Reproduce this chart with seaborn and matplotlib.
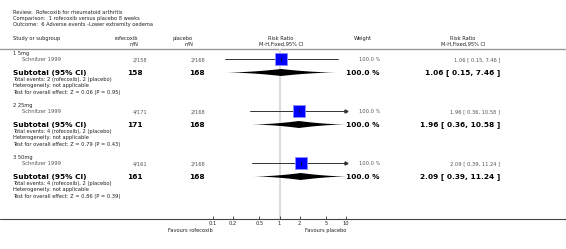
import numpy as np
import matplotlib
matplotlib.use('Agg')
import matplotlib.pyplot as plt
import seaborn as sns

# ---- data ----
groups = ['1 5mg', '2 25mg', '3 50mg']
study = 'Schnitzer 1999'
rof_events = [2, 4, 4]
rof_n = [158, 171, 161]
pla_events = [2, 2, 2]
pla_n = [168, 168, 168]
rr = [1.06, 1.96, 2.09]
ci_lo = [0.15, 0.36, 0.39]
ci_hi = [7.46, 10.58, 11.24]
weight = [100.0, 100.0, 100.0]
z_val = [0.06, 0.79, 0.86]
p_val = [0.95, 0.43, 0.39]
ticks = [0.1, 0.2, 0.5, 1, 2, 5, 10]
tick_labels = ['0.1', '0.2', '0.5', '1', '2', '5', '10']

sns.set_theme(style='white')
plt.rcParams['font.family'] = ['DejaVu Sans']

W, H = 566, 249
fig = plt.figure(figsize=(W / 100, H / 100), dpi=100)
ax = fig.add_axes([0, 0, 1, 1])
ax.set_xlim(0, W)
ax.set_ylim(H, 0)
ax.axis('off')

fs = 3.7     # small text
fsb = 5.3    # bold subtotal text
tc = '#222222'
vc = '#555555'

# header
ax.text(13, 12, 'Review:  Rofecoxib for rheumatoid arthritis', fontsize=fs, color=tc, va='center')
ax.text(13, 18, 'Comparison:  1 rofecoxib versus placebo 8 weeks', fontsize=fs, color=tc, va='center')
ax.text(13, 24.5, 'Outcome:  6 Adverse events -Lower extremity oedema', fontsize=fs, color=tc, va='center')

ax.text(13, 38, 'Study or subgroup', fontsize=fs, color=tc, va='center')
ax.text(138, 38, 'rofecoxib', fontsize=fs, color=tc, va='center', ha='right')
ax.text(138, 44, 'n/N', fontsize=fs, color=tc, va='center', ha='right')
ax.text(193, 38, 'placebo', fontsize=fs, color=tc, va='center', ha='right')
ax.text(193, 44, 'n/N', fontsize=fs, color=tc, va='center', ha='right')
ax.text(281, 38, 'Risk Ratio', fontsize=fs, color=tc, va='center', ha='center')
ax.text(281, 44, 'M-H,Fixed,95% CI', fontsize=fs, color=tc, va='center', ha='center')
ax.text(363, 38, 'Weight', fontsize=fs, color=tc, va='center', ha='center')
ax.text(463, 38, 'Risk Ratio', fontsize=fs, color=tc, va='center', ha='center')
ax.text(463, 44, 'M-H,Fixed,95% CI', fontsize=fs, color=tc, va='center', ha='center')
ax.plot([0, W], [49, 49], color='#999999', lw=1.0)

# ---- forest axes (log scale) ----
x0, x1 = 213, 346
ytop, ybot = 49.5, 219
fx = fig.add_axes([x0 / W, 1 - ybot / H, (x1 - x0) / W, (ybot - ytop) / H])
fx.set_xscale('log')
fx.set_xlim(0.1, 10)
fx.set_ylim(ybot, ytop)
fx.patch.set_alpha(0)
for s in fx.spines.values():
    s.set_visible(False)
fx.axvline(1, color='#dddddd', lw=1.5, zorder=0)


def diamond(axis, lo, est, hi, yc, h=3.5):
    # spindle shaped diamond, edges bowed inwards (drawn in log space)
    f = np.linspace(0, 1, 30)
    la, le, lh = np.log10(lo), np.log10(est), np.log10(hi)
    left = la + (le - la) * f
    right = lh + (le - lh) * f
    prof = h * f ** 1.8
    xs = np.concatenate([left, right[::-1], left[::-1][:0], right, left[::-1]])
    xs = np.concatenate([left, right[::-1], right, left[::-1]])
    ys = np.concatenate([yc - prof, yc - prof[::-1], yc + prof, yc + prof[::-1]])
    axis.fill(10 ** xs, ys, color='black', lw=0, zorder=2)


step = 6.5
first = 53
block = 8 * step
study_y = []
for i, g in enumerate(groups):
    y = first + i * block
    sy = y + step
    suby = y + 3 * step
    study_y.append(sy)
    ax.text(13, y, g, fontsize=fs, color=tc, va='center')
    ax.text(22, sy, study, fontsize=fs, color=vc, va='center')
    ax.text(147, sy, f'{rof_events[i]}/{rof_n[i]}', fontsize=fs, color=vc, va='center', ha='right')
    ax.text(205, sy, f'{pla_events[i]}/{pla_n[i]}', fontsize=fs, color=vc, va='center', ha='right')
    ax.text(380, sy, f'{weight[i]:.1f} %', fontsize=fs, color=vc, va='center', ha='right')
    ax.text(500, sy, f'{rr[i]:.2f} [ {ci_lo[i]:.2f}, {ci_hi[i]:.2f} ]', fontsize=fs, color=vc,
            va='center', ha='right')
    ax.text(13, suby, 'Subtotal (95% CI)', fontsize=fsb, color='black', va='center', weight='bold')
    ax.text(143, suby, f'{rof_n[i]}', fontsize=fsb, color='black', va='center', ha='right', weight='bold')
    ax.text(205, suby, f'{pla_n[i]}', fontsize=fsb, color='black', va='center', ha='right', weight='bold')
    ax.text(380, suby, f'{weight[i]:.1f} %', fontsize=fsb, color='black', va='center', ha='right', weight='bold')
    ax.text(500, suby, f'{rr[i]:.2f} [ {ci_lo[i]:.2f}, {ci_hi[i]:.2f} ]', fontsize=fsb, color='black',
            va='center', ha='right', weight='bold')
    ax.text(13, y + 4 * step, f'Total events: {rof_events[i]} (rofecoxib), {pla_events[i]} (placebo)',
            fontsize=fs, color=tc, va='center')
    ax.text(13, y + 5 * step, 'Heterogeneity: not applicable', fontsize=fs, color=tc, va='center')
    ax.text(13, y + 6 * step, f'Test for overall effect: Z = {z_val[i]:.2f} (P = {p_val[i]:.2f})',
            fontsize=fs, color=tc, va='center')

    # CI line, arrow when it runs off the scale
    hi = min(ci_hi[i], 10)
    fx.plot([ci_lo[i], hi], [sy, sy], color='#333333', lw=0.7, zorder=2)
    if ci_hi[i] > 10:
        fx.plot([10], [sy], marker='>', color='#333333', ms=2.2, clip_on=False, zorder=3)
    diamond(fx, ci_lo[i], rr[i], ci_hi[i], suby)

sns.scatterplot(x=rr, y=study_y, marker='s', s=85, color='#0000ff', edgecolor='#8c8cff',
                linewidth=0.6, ax=fx, zorder=3, legend=False)
fx.plot(rr, study_y, marker='|', ls='none', color='black', ms=3, mew=0.5, zorder=4)

fx.set_xticks(ticks)
fx.set_xticklabels(tick_labels)
fx.minorticks_off()
fx.set_yticks([])
fx.tick_params(axis='x', direction='in', length=2.5, width=0.6, color='#333333',
               labelsize=fs, labelcolor=tc, pad=1.2, bottom=True)
fx.set_xlabel('')
fx.set_ylabel('')

# full width axis line
ax.plot([0, W], [219, 219], color='#444444', lw=0.8)
ax.text(213, 230, 'Favours rofecoxib', fontsize=fs, color=tc, va='center', ha='right')
ax.text(346, 230, 'Favours placebo', fontsize=fs, color=tc, va='center', ha='right')

fig.savefig('out.png', dpi=100)
